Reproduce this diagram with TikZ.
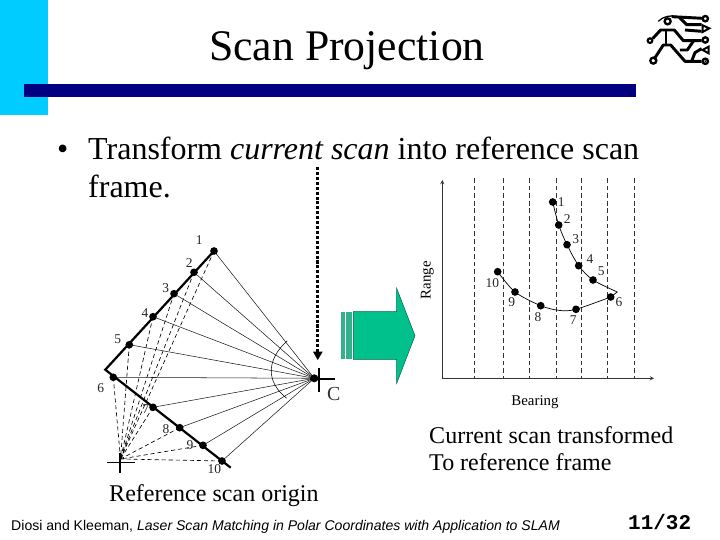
\documentclass[tikz,border=0pt]{standalone}
\usepackage{fontspec}
\setmainfont{Liberation Serif}
\newfontfamily\footfont{Liberation Sans}
\newfontfamily\pagefont{Liberation Mono}
\definecolor{sidecyan}{HTML}{00CCFF}
\definecolor{barnavy}{HTML}{000080}
\definecolor{arrowgreen}{HTML}{00C08C}
\definecolor{stripegreen}{HTML}{33B08C}
\begin{document}
\begin{tikzpicture}[
    x=0.03cm, y=-0.03cm,
    txt/.style={anchor=base west, inner sep=0, font=\fontsize{20.5}{24}\selectfont},
    bullettxt/.style={anchor=base west, inner sep=0, font=\fontsize{27.3}{32}\selectfont},
    dot/.style={circle, fill=black, inner sep=0, minimum size=0.23cm},
    num/.style={inner sep=0, font=\fontsize{11.5}{13}\selectfont, text=black!85},
    ray/.style={draw=black!90, line width=0.45pt},
    proj/.style={draw=black, line width=0.55pt, dash pattern=on 3.5pt off 2.5pt},
    grid/.style={draw=black!80, line width=0.7pt, dash pattern=on 4pt off 2.5pt},
    logoline/.style={line width=2.5pt, line join=round}
]
\useasboundingbox (0,0) rectangle (720,540);

% Title bar
\fill[sidecyan] (0,0) rectangle (48,115);
\fill[barnavy] (24,84) rectangle (636,97);
\node[anchor=base west, inner sep=0, font=\fontsize{37.3}{44}\selectfont] (title) at (209,61) {Scan Projection};

% Bullet
\node[bullettxt] (bullet) at (57,160) {\textbullet};
\node[bullettxt] (line1) at (88,160) {Transform \textit{current scan} into reference scan};
\node[bullettxt] (line2) at (88,198) {frame.};

% Logo
\begin{scope}[shift={(630,0)}, x=0.01cm, y=-0.01cm]
\draw[line width=1.1pt] (85,64) .. controls (100,48) and (125,45) .. (140,50);
\draw[logoline] (125,50) -- (218,55);
\draw[logoline] (148,52) -- (170,74) -- (215,74);
\draw[line width=2pt] (113,64) circle (9);
\draw[logoline] (68,116) -- (92,90) -- (133,90) -- (160,122) -- (215,122);
\draw[logoline] (108,90) -- (108,135);
\draw[logoline] (72,178) -- (100,135) -- (122,135) -- (165,184) -- (215,184);
\draw[logoline] (150,150) -- (172,150) -- (190,124);
\draw[logoline] (185,184) -- (195,158) -- (215,146);
\draw[logoline] (165,90) -- (215,94);
\draw[line width=2pt] (70,182) circle (9);
\draw[line width=1.8pt] (60,122) circle (7);
\draw[line width=2pt] (226,56) circle (8);
\draw[line width=1.7pt] (218,76) -- (238,85) -- (218,96) -- cycle;
\draw[line width=2pt] (226,120) circle (8);
\draw[line width=1.7pt] (236,140) -- (218,150) -- (236,160) -- cycle;
\draw[line width=2pt] (226,184) circle (8);
\fill (226,184) circle (3);
\end{scope}

% Dots of current scan
\node[dot] (p1) at (214,251) {};
\node[dot] (p2) at (194,272.3) {};
\node[dot] (p3) at (174,293.7) {};
\node[dot] (p4) at (153,316.7) {};
\node[dot] (p5) at (129.3,344.7) {};
\node[dot] (p6) at (113.3,377.3) {};
\node[dot] (p7) at (153,407.3) {};
\node[dot] (p8) at (179.7,427.7) {};
\node[dot] (p9) at (203,445.3) {};
\node[dot] (p10) at (222,461) {};
\coordinate (corner) at (105.3,369.7);
\coordinate (wallend) at (230.7,467.7);
\coordinate (C) at (314.3,378.3);
\coordinate (R) at (120.5,459);

% Rays
\foreach \i in {1,...,10} {
    \draw[ray] (p\i.center) -- (C);
    \draw[proj] (p\i.center) -- (R);
}
\fill (C) circle (4);

% Scan walls
\draw[line width=1.9pt] (p1.center) -- (corner) -- (wallend);

% Bearing arc
\coordinate (arcA) at (287.3,340.7);
\coordinate (arcB) at (286.7,398.3);
\draw[line width=0.45pt] (arcA) .. controls (266,360) and (266,382) .. (arcB);

% Crosses
\draw[line width=1.9pt] (319.3,368.3) -- (319.3,391.7);
\draw[line width=1.5pt] (310,378.7) -- (335,378.7);
\draw[line width=1.2pt] (107.3,462.7) -- (135,462.7);
\draw[line width=1.2pt] (120,453) -- (120,473);
\node[inner sep=0, font=\fontsize{17}{20}\selectfont, text=black!80] (Clabel) at (333.7,394) {C};

% Left numbers
\node[num] (n1) at (199.3,240) {1};
\node[num] (n2) at (189.3,263.3) {2};
\node[num] (n3) at (165.7,287.7) {3};
\node[num] (n4) at (145,312.7) {4};
\node[num] (n5) at (117.7,339) {5};
\node[num] (n6) at (100.7,387.7) {6};
\node[num] (n7) at (145.7,409.3) {7};
\node[num] (n8) at (166,429.3) {8};
\node[num] (n9) at (190,445.3) {9};
\node[num] (n10) at (214.3,469.3) {10};

% Dotted arrow
\coordinate (dropT) at (317.5,167);
\coordinate (dropB) at (317.5,352);
\draw[line width=3.4pt, dash pattern=on 2.6pt off 1.6pt] (dropT) -- (dropB);
\fill (313,351.7) -- (322.7,351.7) -- (317.7,360) -- cycle;

% Green arrow
\fill[stripegreen] (341.3,311.7) rectangle (344.7,359.3);
\fill[stripegreen] (346.3,311.7) rectangle (351.7,359.3);
\draw[fill=arrowgreen, draw=black!50!arrowgreen, line width=0.4pt] (353.3,311.7) -- (396.7,311.7) -- (396.7,288.3) -- (415,335.7) -- (396.7,383.3) -- (396.7,359.3) -- (353.3,359.3) -- cycle;

% Graph axes
\coordinate (orig) at (442.3,378.3);
\coordinate (ytop) at (442.3,180);
\coordinate (xend) at (654,378.3);
\draw[line width=0.6pt, draw=black!80, -stealth] (orig) -- (ytop);
\draw[line width=0.6pt, draw=black!80, -stealth] (orig) -- (xend);
\foreach \x in {474.3,503.3,529,556,581.3,607.3,634.3} {
    \draw[grid] (\x,178) -- (\x,378.3);
}
\node[inner sep=0, rotate=90, font=\fontsize{12.7}{15}\selectfont] (rangelabel) at (427.3,280) {Range};
\node[inner sep=0, font=\fontsize{12.7}{15}\selectfont] (bearinglabel) at (535,402.3) {Bearing};

% Projected scan
\node[dot] (q1) at (552.7,202) {};
\node[dot] (q2) at (558.7,225) {};
\node[dot] (q3) at (567,244.7) {};
\node[dot] (q4) at (578.7,265.7) {};
\node[dot] (q5) at (593,280) {};
\node[dot] (q6) at (610.7,297) {};
\node[dot] (q7) at (576,309.3) {};
\node[dot] (q8) at (540.7,305.7) {};
\node[dot] (q9) at (515,292) {};
\node[dot] (q10) at (497.7,271.7) {};
\coordinate (qtip) at (617.3,292);
\coordinate (qlow) at (560,310.5);
\draw[line width=0.6pt] plot[smooth, tension=0.5] coordinates {(q1) (q2) (q3) (q4) (q5) (qtip)};
\draw[line width=0.6pt] (qtip) -- (q6.center);
\draw[line width=0.6pt] plot[smooth, tension=0.5] coordinates {(q6) (q7) (qlow) (q8) (q9) (q10)};

\node[num] (m1) at (561.3,201.7) {1};
\node[num] (m2) at (567.3,219) {2};
\node[num] (m3) at (575.7,239) {3};
\node[num] (m4) at (590,259.3) {4};
\node[num] (m5) at (601.3,270.7) {5};
\node[num] (m6) at (619,302) {6};
\node[num] (m7) at (573.3,320) {7};
\node[num] (m8) at (538,317.3) {8};
\node[num] (m9) at (511.7,302.3) {9};
\node[num] (m10) at (492.3,282.7) {10};

% Captions
\node[txt] (reftxt) at (109,501) {Reference scan origin};
\node[txt] (curtxt) at (429,443) {Current scan transformed};
\node[txt] (totxt) at (429,471) {To reference frame};

% Footer
\node[anchor=base west, inner sep=0, font=\footfont\fontsize{12}{14}\selectfont] (cite) at (11,530) {Diosi and Kleeman, \textit{Laser Scan Matching in Polar Coordinates with Application to SLAM}};
\node[anchor=base west, inner sep=0, font=\pagefont\bfseries\fontsize{17.9}{21}\selectfont] (pagenum) at (628,529) {11/32};

\end{tikzpicture}
\end{document}
